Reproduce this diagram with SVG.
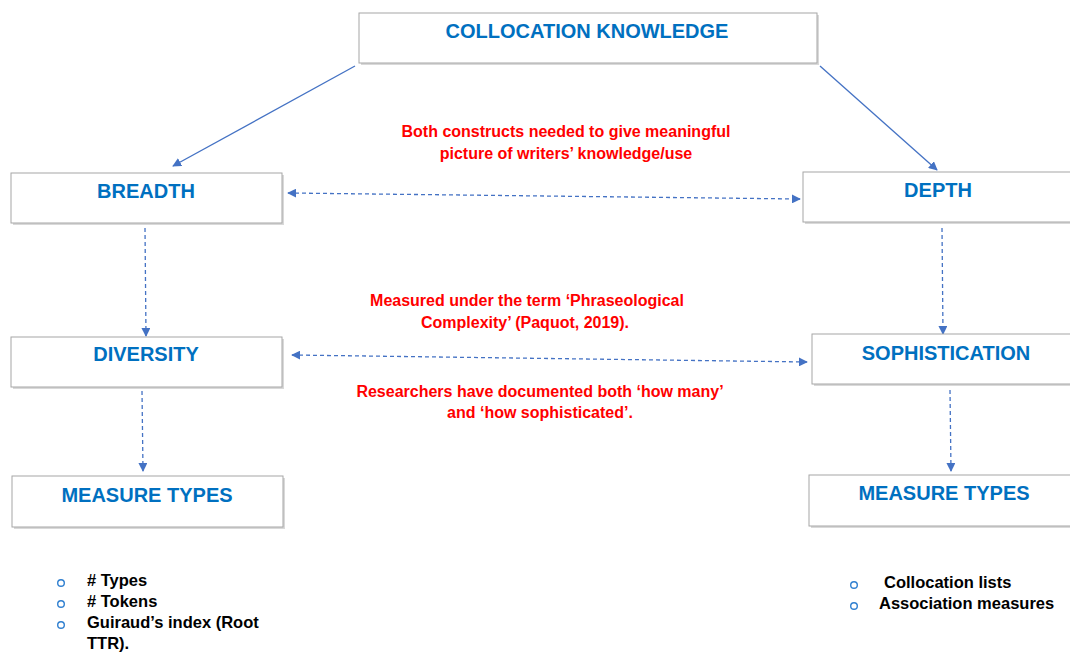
<svg xmlns="http://www.w3.org/2000/svg" width="1070" height="653" viewBox="0 0 1070 653">
<style>
.box{fill:#fff;stroke:#a6a6a6;stroke-width:1}
.shadow{fill:#d9d9d9}
.title{font-family:"Liberation Sans",Arial,sans-serif;font-weight:bold;font-size:20px;fill:#0070C0;text-anchor:middle}
.note{font-family:"Liberation Sans",Arial,sans-serif;font-weight:bold;font-size:16px;fill:#FF0000;text-anchor:middle}
.item{font-family:"Liberation Sans",Arial,sans-serif;font-weight:bold;font-size:16.5px;fill:#000}
.bullet{fill:none;stroke:#2F7FD0;stroke-width:1.4}
.solid{stroke:#4472C4;stroke-width:1.3;fill:none}
.dash{stroke:#4472C4;stroke-width:1.3;fill:none;stroke-dasharray:4 3}
</style>
<defs>
<marker id="ah" viewBox="0 0 10 10" refX="9" refY="5" markerWidth="9" markerHeight="9" markerUnits="userSpaceOnUse" orient="auto-start-reverse">
<path d="M0,0 L10,5 L0,10 z" fill="#4472C4"/>
</marker>
</defs>
<rect width="1070" height="653" fill="#fff"/>
<g id="connectors">
<line class="solid" x1="355" y1="66" x2="173" y2="166" marker-end="url(#ah)"/>
<line class="solid" x1="820" y1="66" x2="937" y2="170" marker-end="url(#ah)"/>
<line class="dash" x1="288" y1="193" x2="800" y2="199" marker-start="url(#ah)" marker-end="url(#ah)"/>
<line class="dash" x1="292" y1="355" x2="807" y2="362" marker-start="url(#ah)" marker-end="url(#ah)"/>
<line class="dash" x1="145" y1="228" x2="146" y2="336" marker-end="url(#ah)"/>
<line class="dash" x1="942" y1="228" x2="943" y2="334" marker-end="url(#ah)"/>
<line class="dash" x1="142" y1="391" x2="143" y2="471" marker-end="url(#ah)"/>
<line class="dash" x1="950" y1="390" x2="951" y2="471" marker-end="url(#ah)"/>
</g>
<g id="collocation-knowledge">
<rect class="shadow" x="361" y="15" width="458" height="50"/>
<rect class="box" x="359" y="13" width="458" height="50"/>
<text class="title" x="587" y="38">COLLOCATION KNOWLEDGE</text>
</g>
<g id="breadth">
<rect class="shadow" x="13" y="175" width="271" height="50"/>
<rect class="box" x="11" y="173" width="271" height="50"/>
<text class="title" x="146" y="198">BREADTH</text>
</g>
<g id="depth">
<rect class="shadow" x="805" y="174" width="280" height="50"/>
<rect class="box" x="803" y="172" width="280" height="50"/>
<text class="title" x="938" y="197">DEPTH</text>
</g>
<g id="diversity">
<rect class="shadow" x="13" y="339" width="271" height="50"/>
<rect class="box" x="11" y="337" width="271" height="50"/>
<text class="title" x="146" y="361">DIVERSITY</text>
</g>
<g id="sophistication">
<rect class="shadow" x="814" y="336" width="280" height="50"/>
<rect class="box" x="812" y="334" width="280" height="50"/>
<text class="title" x="946" y="360">SOPHISTICATION</text>
</g>
<g id="measure-types-left">
<rect class="shadow" x="14" y="478" width="271" height="51"/>
<rect class="box" x="12" y="476" width="271" height="51"/>
<text class="title" x="147" y="502">MEASURE TYPES</text>
</g>
<g id="measure-types-right">
<rect class="shadow" x="811" y="477" width="280" height="51"/>
<rect class="box" x="809" y="475" width="280" height="51"/>
<text class="title" x="944" y="500">MEASURE TYPES</text>
</g>
<g id="notes">
<text class="note" x="566" y="137">Both constructs needed to give meaningful</text>
<text class="note" x="566" y="159">picture of writers’ knowledge/use</text>
<text class="note" x="527" y="306">Measured under the term ‘Phraseological</text>
<text class="note" x="525" y="328">Complexity’ (Paquot, 2019).</text>
<text class="note" x="540" y="397">Researchers have documented both ‘how many’</text>
<text class="note" x="540" y="418">and ‘how sophisticated’.</text>
</g>
<g id="list-left">
<circle class="bullet" cx="61" cy="583" r="3.3"/>
<circle class="bullet" cx="61" cy="604" r="3.3"/>
<circle class="bullet" cx="61" cy="625" r="3.3"/>
<text class="item" x="87" y="586"># Types</text>
<text class="item" x="87" y="607"># Tokens</text>
<text class="item" x="87" y="628">Guiraud’s index (Root</text>
<text class="item" x="87" y="649">TTR).</text>
</g>
<g id="list-right">
<circle class="bullet" cx="854" cy="585" r="3.3"/>
<circle class="bullet" cx="854" cy="606" r="3.3"/>
<text class="item" x="884" y="588">Collocation lists</text>
<text class="item" x="879" y="609">Association measures</text>
</g>
</svg>
